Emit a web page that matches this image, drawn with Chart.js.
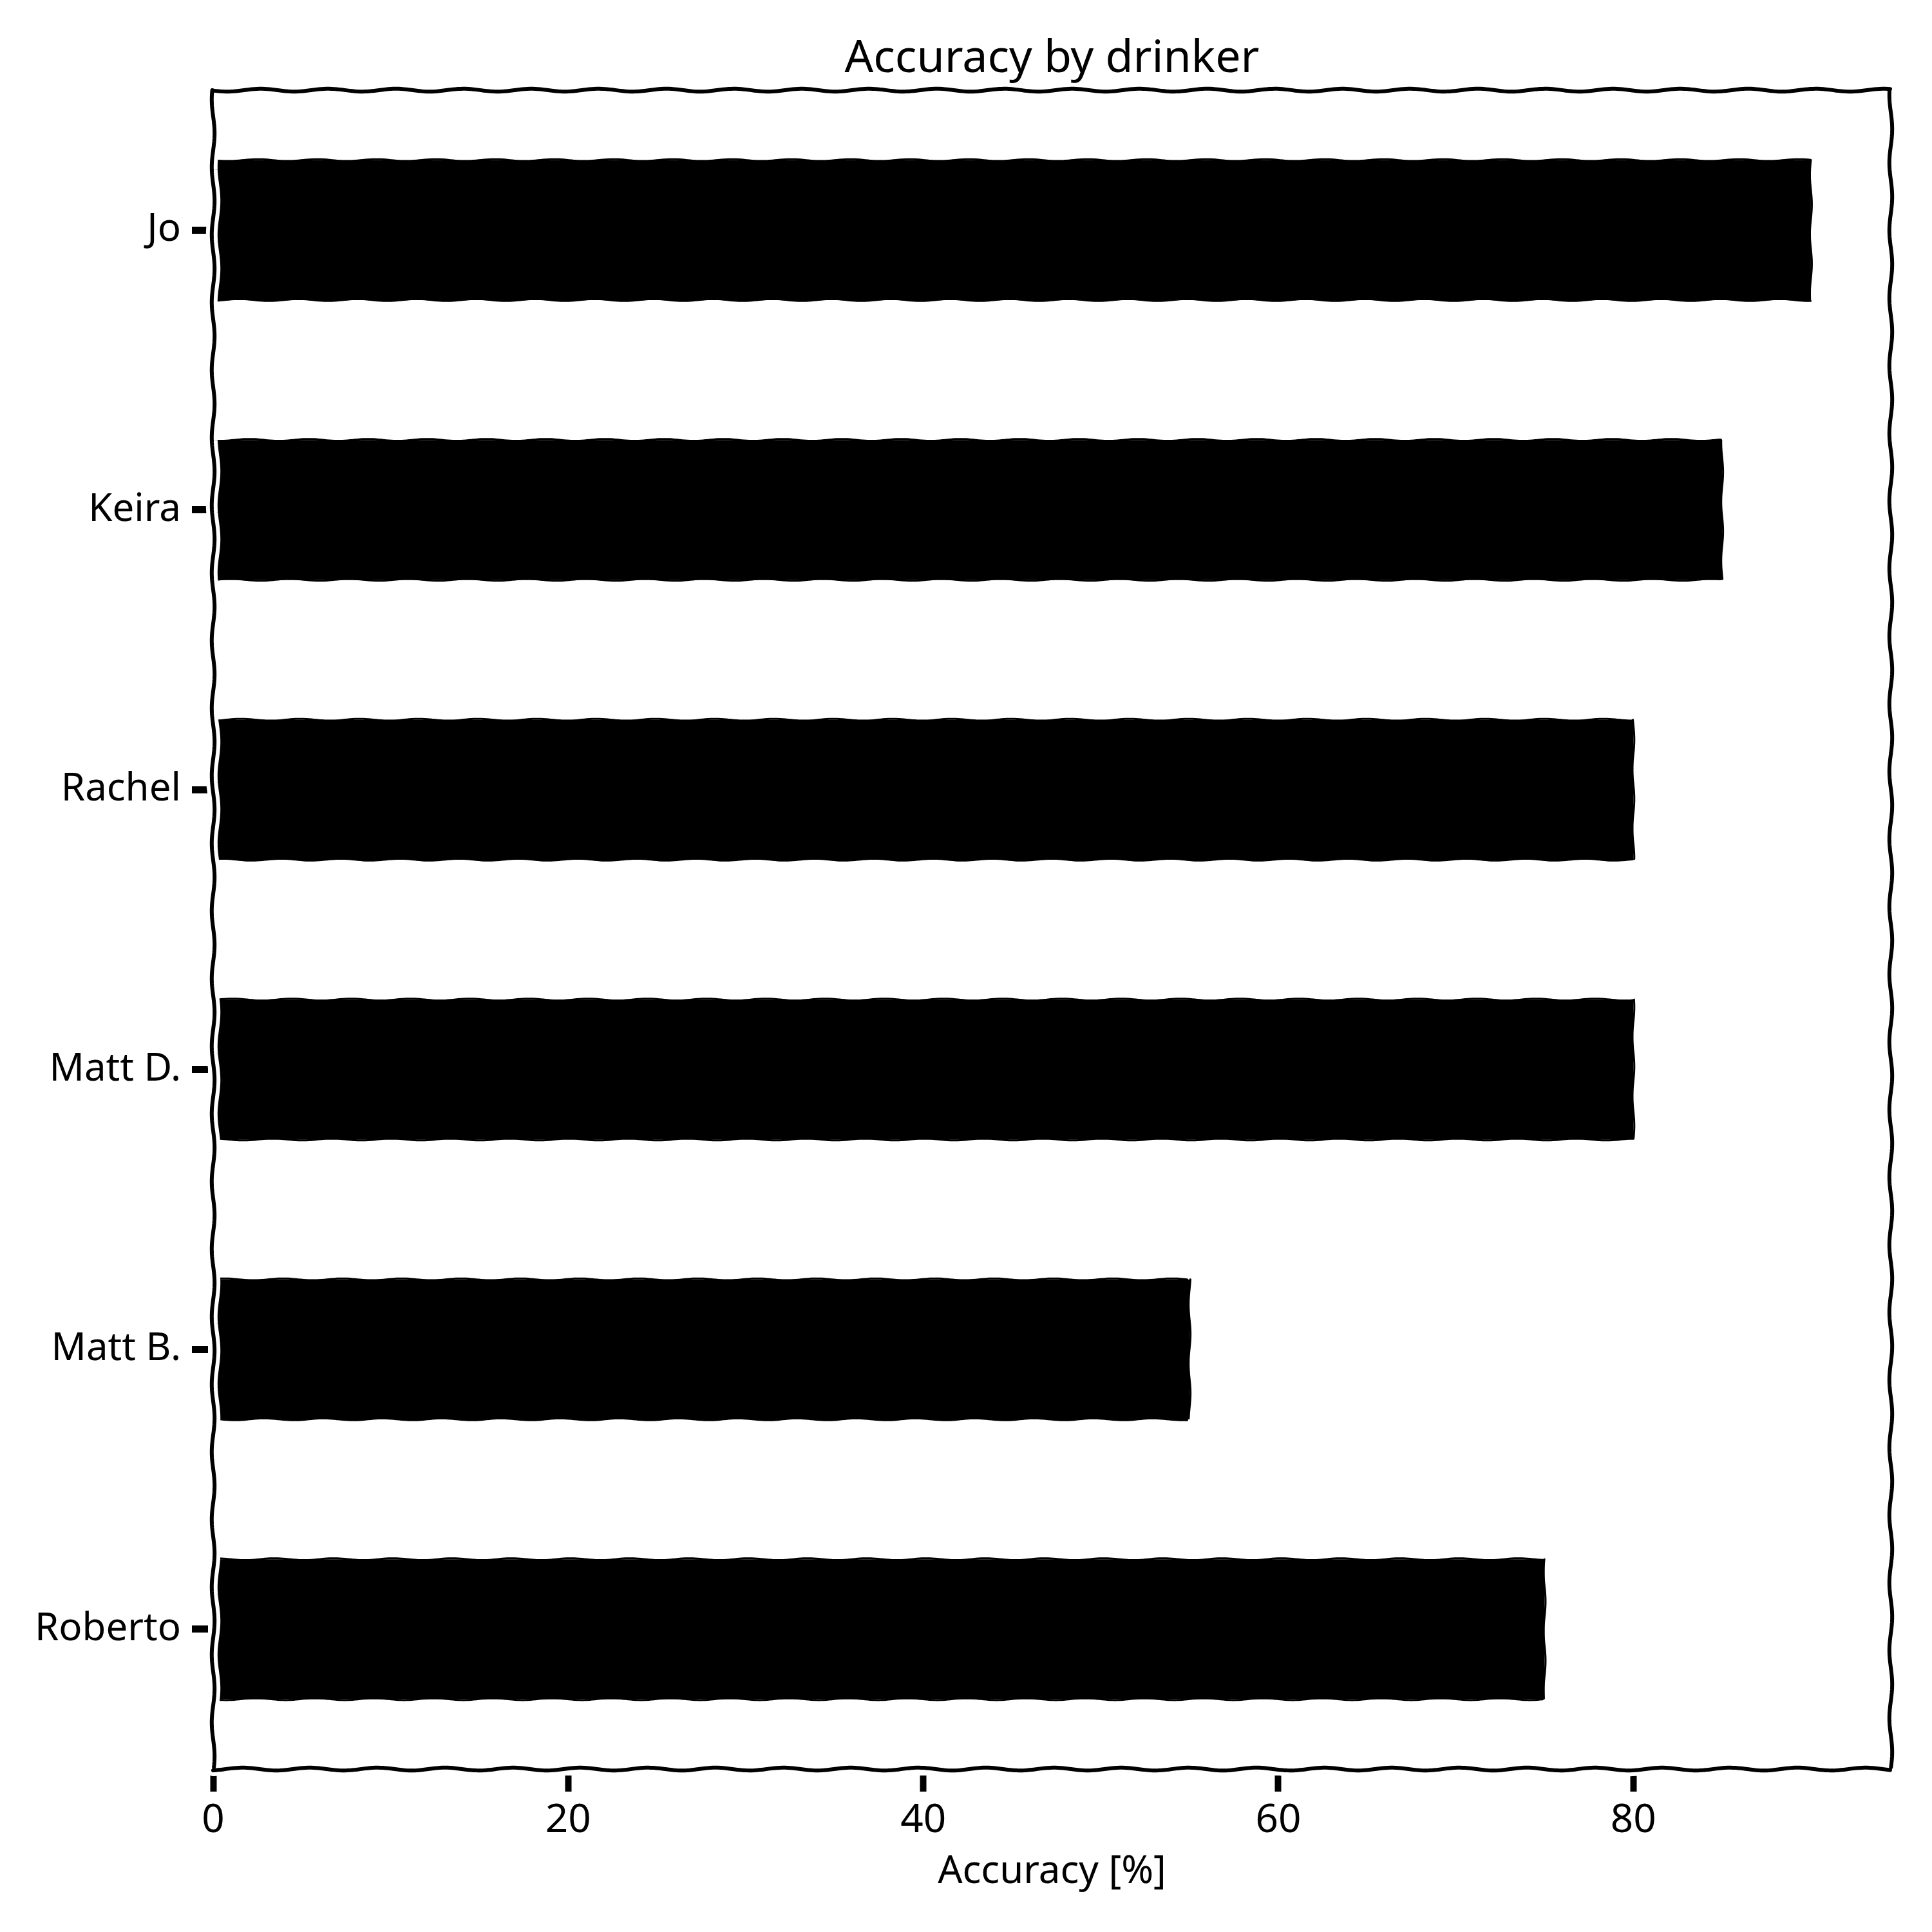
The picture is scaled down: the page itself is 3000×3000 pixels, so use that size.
<!DOCTYPE html>
<html>
<head>
<meta charset="utf-8">
<script src="https://cdn.jsdelivr.net/npm/chart.js@4"></script>
<style>
  body { margin: 0; background: #fff; }
  #wrap { width: 3000px; height: 3000px; }
</style>
</head>
<body>
<div id="wrap"><canvas id="accuracyChart" width="3000" height="3000"></canvas></div>
<script>
// Data
const drinkers = ['Jo', 'Keira', 'Rachel', 'Matt D.', 'Matt B.', 'Roberto'];
const accuracy = [90, 85, 80, 80, 55, 75];
const xTicks = [0, 20, 40, 60, 80];
const xMax = 94.5;

Chart.defaults.font.family = '"Noto Sans", sans-serif';
Chart.defaults.color = '#000';

// wobbly line, a bit like the xkcd style
function wiggleLine(ctx, x1, y1, x2, y2, phase, amp, period) {
    const len = Math.hypot(x2 - x1, y2 - y1);
    const nx = -(y2 - y1) / len, ny = (x2 - x1) / len;
    ctx.beginPath();
    for (let s = 0; s <= len; s += 4) {
        const t = s / len;
        const off = amp * Math.sin(s / period * 2 * Math.PI + phase);
        const px = x1 + (x2 - x1) * t + nx * off;
        const py = y1 + (y2 - y1) * t + ny * off;
        if (s === 0) ctx.moveTo(px, py); else ctx.lineTo(px, py);
    }
    ctx.stroke();
}

// keep the title centred over the plot area, not the whole canvas
const titleOverPlot = {
    id: 'titleOverPlot',
    afterLayout(chart) {
        const tb = chart.titleBlock;
        const a = chart.chartArea;
        if (tb) {
            tb.left = a.left;
            tb.right = a.right;
            tb.width = a.right - a.left;
        }
    }
};

const xkcdFrame = {
    id: 'xkcdFrame',
    afterDatasetsDraw(chart) {
        const { ctx, chartArea: a } = chart;

        // slightly wobbly bar edges
        const meta = chart.getDatasetMeta(0);
        ctx.save();
        ctx.strokeStyle = '#000';
        ctx.lineWidth = 3;
        ctx.lineCap = 'round';
        meta.data.forEach((bar, i) => {
            const p = bar.getProps(['x', 'y', 'base', 'height'], true);
            const top = p.y - p.height / 2, bottom = p.y + p.height / 2;
            wiggleLine(ctx, p.base, top, p.x, top, i * 0.9, 1.5, 92);
            wiggleLine(ctx, p.base, bottom, p.x, bottom, i * 0.9 + 2, 1.5, 92);
            wiggleLine(ctx, p.x, top, p.x, bottom, i * 1.3, 1.5, 92);
        });
        ctx.restore();

        const edges = [
            [a.left, a.top, a.right, a.top, 0.3],
            [a.right, a.top, a.right, a.bottom, 1.1],
            [a.left, a.bottom, a.right, a.bottom, 2.0],
            [a.left, a.top, a.left, a.bottom, 0.7],
        ];
        ctx.save();
        ctx.lineCap = 'round';
        ctx.strokeStyle = '#fff';
        ctx.lineWidth = 18;
        edges.forEach(e => wiggleLine(ctx, ...e, 2.2, 105));
        ctx.strokeStyle = '#000';
        ctx.lineWidth = 6;
        edges.forEach(e => wiggleLine(ctx, ...e, 2.2, 105));
        ctx.restore();
    }
};

const ctx = document.getElementById('accuracyChart').getContext('2d');
new Chart(ctx, {
    type: 'bar',
    data: {
        labels: drinkers,
        datasets: [{
            label: 'Accuracy',
            data: accuracy,
            backgroundColor: '#000',
            borderWidth: 0,
            barPercentage: 0.5,
            categoryPercentage: 1.0,
        }],
    },
    options: {
        indexAxis: 'y',
        responsive: false,
        devicePixelRatio: 1,
        animation: false,
        layout: { padding: { top: 0, right: 64, bottom: 0, left: 0 } },
        plugins: {
            legend: { display: false },
            tooltip: { enabled: false },
            title: {
                display: true,
                text: 'Accuracy by drinker',
                font: { size: 70, weight: 'normal' },
                padding: { top: 50, bottom: 6 },
            },
        },
        scales: {
            x: {
                min: 0,
                max: xMax,
                afterBuildTicks: (scale) => { scale.ticks = xTicks.map(v => ({ value: v })); },
                afterFit: (scale) => { scale.height = 253; },
                border: { display: false },
                grid: {
                    drawOnChartArea: false,
                    tickLength: 35,
                    tickWidth: 10,
                    tickColor: '#000',
                    tickBorderDash: [0, 10, 25, 200],
                },
                ticks: { font: { size: 62 }, padding: 8 },
                title: {
                    display: true,
                    text: 'Accuracy [%]',
                    font: { size: 60 },
                    padding: { top: 0, bottom: 57 },
                },
            },
            y: {
                afterFit: (scale) => { scale.width = 331; },
                border: { display: false },
                grid: {
                    offset: false,
                    drawOnChartArea: false,
                    tickLength: 33,
                    tickWidth: 11,
                    tickColor: '#000',
                    tickBorderDash: [25, 200],
                },
                ticks: { font: { size: 60 }, padding: 17 },
            },
        },
    },
    plugins: [titleOverPlot, xkcdFrame],
});
</script>
</body>
</html>
